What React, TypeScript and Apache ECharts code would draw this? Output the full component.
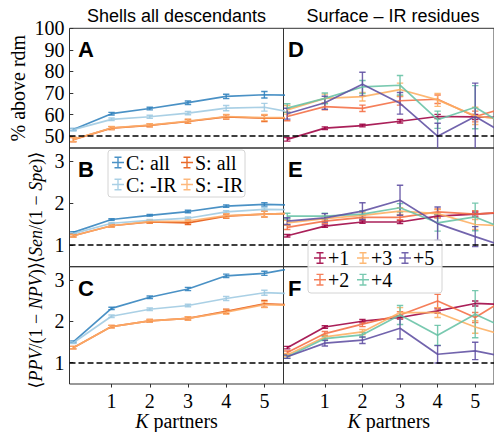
import React, { useEffect, useRef } from 'react';
import * as echarts from 'echarts';

// ---------- data ----------
const K = [0, 1, 2, 3, 4, 5, 6];
const xTicks = [1, 2, 3, 4, 5];
const pctTicks = [50, 60, 70, 80, 90, 100];
const ratioTicks = [1, 2, 3];

const leftNames = ['C: all', 'C: -IR', 'S: all', 'S: -IR'];
const rightNames = ['+1', '+2', '+3', '+4', '+5'];

// Panel A: % above random
const aCAll = [53.1, 60.4, 62.8, 65.5, 68.4, 69.2, 68.8];
const aCAllErr = [0.5, 0.6, 0.6, 0.8, 1.0, 1.5, 1.5];
const aCIR = [53.0, 57.8, 59.0, 60.7, 63.0, 63.4, 60.0];
const aCIRErr = [0.5, 0.6, 0.7, 0.8, 1.2, 1.8, 1.8];
const aSAll = [48.4, 53.7, 55.0, 56.8, 58.9, 58.3, 58.4];
const aSAllErr = [1.0, 0.7, 0.7, 0.9, 1.0, 1.5, 1.5];
const aSIR = [48.5, 53.8, 55.1, 57.0, 59.1, 58.6, 58.5];
const aSIRErr = [1.0, 0.7, 0.7, 0.9, 1.0, 1.4, 1.4];

// Panel B: <Sen/(1-Spe)>
const bCAll = [1.30, 1.61, 1.71, 1.80, 1.93, 1.97, 1.95];
const bCAllErr = [0.02, 0.02, 0.02, 0.03, 0.03, 0.04, 0.04];
const bCIR = [1.27, 1.52, 1.59, 1.64, 1.79, 1.85, 1.84];
const bCIRErr = [0.02, 0.02, 0.02, 0.03, 0.03, 0.04, 0.04];
const bSAll = [1.22, 1.46, 1.55, 1.53, 1.69, 1.74, 1.76];
const bSAllErr = [0.03, 0.03, 0.03, 0.04, 0.05, 0.07, 0.07];
const bSIR = [1.22, 1.46, 1.56, 1.57, 1.70, 1.74, 1.76];
const bSIRErr = [0.03, 0.03, 0.03, 0.04, 0.05, 0.07, 0.07];

// Panel C: <PPV/(1-NPV)>
const cCAll = [1.50, 2.31, 2.58, 2.78, 3.10, 3.16, 3.33];
const cCAllErr = [0.02, 0.03, 0.03, 0.04, 0.04, 0.05, 0.05];
const cCIR = [1.48, 2.12, 2.29, 2.38, 2.55, 2.69, 2.66];
const cCIRErr = [0.02, 0.03, 0.03, 0.03, 0.05, 0.06, 0.06];
const cSAll = [1.36, 1.87, 2.01, 2.07, 2.24, 2.42, 2.39];
const cSAllErr = [0.03, 0.03, 0.03, 0.04, 0.05, 0.08, 0.08];
const cSIR = [1.36, 1.87, 2.01, 2.07, 2.22, 2.40, 2.38];
const cSIRErr = [0.03, 0.03, 0.03, 0.04, 0.05, 0.07, 0.07];

// Panel D
const d1 = [48.5, 53.7, 54.9, 56.9, 59.1, 58.9, 58.5];
const d1Err = [0.8, 0.6, 0.6, 0.8, 1.0, 1.2, 1.2];
const d2 = [59.1, 63.7, 62.9, 66.4, 67.1, 59.1, 64.0];
const d2Err = [2.0, 1.5, 1.5, 2.0, 2.0, 2.5, 2.5];
const d3 = [62.2, 67.5, 68.3, 71.6, 66.8, 59.4, 57.0];
const d3Err = [2.0, 2.0, 2.0, 3.0, 3.0, 4.0, 4.0];
const d4 = [63.0, 67.5, 72.8, 73.6, 57.6, 63.4, 53.0];
const d4Err = [2.0, 2.5, 3.0, 4.5, 4.0, 10.0, 10.0];
const d5 = [60.4, 65.5, 74.1, 65.2, 50.0, 59.1, 49.0];
const d5Err = [2.5, 3.0, 5.5, 5.0, 6.0, 15.5, 15.0];

// Panel E
const e1 = [1.22, 1.45, 1.55, 1.55, 1.69, 1.74, 1.78];
const e1Err = [0.03, 0.03, 0.03, 0.04, 0.04, 0.05, 0.05];
const e2 = [1.42, 1.57, 1.66, 1.66, 1.79, 1.74, 1.80];
const e2Err = [0.05, 0.05, 0.05, 0.06, 0.07, 0.08, 0.08];
const e3 = [1.53, 1.63, 1.71, 1.81, 1.75, 1.49, 1.45];
const e3Err = [0.06, 0.06, 0.07, 0.08, 0.10, 0.12, 0.12];
const e4 = [1.69, 1.69, 1.74, 1.89, 1.53, 1.67, 1.30];
const e4Err = [0.07, 0.07, 0.08, 0.10, 0.20, 0.33, 0.33];
const e5 = [1.57, 1.65, 1.81, 2.07, 1.51, 1.20, 0.90];
const e5Err = [0.08, 0.10, 0.20, 0.36, 0.40, 0.24, 0.30];

// Panel F
const f1 = [1.36, 1.86, 2.00, 2.09, 2.25, 2.43, 2.40];
const f1Err = [0.03, 0.03, 0.04, 0.04, 0.05, 0.06, 0.06];
const f2 = [1.24, 1.70, 1.93, 2.15, 2.49, 2.09, 2.65];
const f2Err = [0.04, 0.05, 0.06, 0.08, 0.16, 0.12, 0.12];
const f3 = [1.18, 1.62, 1.74, 2.21, 2.21, 1.86, 1.60];
const f3Err = [0.04, 0.05, 0.06, 0.12, 0.12, 0.15, 0.15];
const f4 = [1.14, 1.58, 1.67, 2.15, 1.66, 2.17, 1.75];
const f4Err = [0.04, 0.05, 0.06, 0.23, 0.24, 0.57, 0.50];
const f5 = [1.14, 1.47, 1.54, 1.83, 1.20, 1.28, 1.10];
const f5Err = [0.04, 0.07, 0.08, 0.26, 0.21, 0.21, 0.20];

// ---------- styling ----------
const leftColors = ['#3182bd', '#9ecae1', '#e6550d', '#fdae6b'];
const rightColors = ['#9e0142', '#f46d43', '#fdae61', '#66c2a5', '#5e4fa2'];
const SERIF = "'Liberation Serif', 'Times New Roman', 'DejaVu Serif', serif";
const SANS = "'Liberation Sans', Arial, 'DejaVu Sans', sans-serif";
const ALPHA = 0.88;
const ERR_ICON = 'path://M2.5,0h7v1.4h-7z M5.3,0h1.4v12h-1.4z M2.5,10.6h7v1.4h-7z M0,5.3h12v1.4h-12z';

const LEFT_X = 69.5;
const RIGHT_X = 283.5;
const GRID_W = 214;
const ROWS = [
  { top: 28.3, height: 119.7 },
  { top: 148, height: 118.7 },
  { top: 266.7, height: 119.3 },
];

function App() {
  const ref = useRef<HTMLDivElement>(null);
  useEffect(() => {
    if (!ref.current) return;
    const chart = echarts.init(ref.current, null, { renderer: 'svg' });

    const panels = [
      { vals: [aCAll, aCIR, aSAll, aSIR], errs: [aCAllErr, aCIRErr, aSAllErr, aSIRErr], names: leftNames, colors: leftColors, row: 0, side: 0, ref: 50 },
      { vals: [bCAll, bCIR, bSAll, bSIR], errs: [bCAllErr, bCIRErr, bSAllErr, bSIRErr], names: leftNames, colors: leftColors, row: 1, side: 0, ref: 1 },
      { vals: [cCAll, cCIR, cSAll, cSIR], errs: [cCAllErr, cCIRErr, cSAllErr, cSIRErr], names: leftNames, colors: leftColors, row: 2, side: 0, ref: 1 },
      { vals: [d1, d2, d3, d4, d5], errs: [d1Err, d2Err, d3Err, d4Err, d5Err], names: rightNames, colors: rightColors, row: 0, side: 1, ref: 50 },
      { vals: [e1, e2, e3, e4, e5], errs: [e1Err, e2Err, e3Err, e4Err, e5Err], names: rightNames, colors: rightColors, row: 1, side: 1, ref: 1 },
      { vals: [f1, f2, f3, f4, f5], errs: [f1Err, f2Err, f3Err, f4Err, f5Err], names: rightNames, colors: rightColors, row: 2, side: 1, ref: 1 },
    ];

    const grids: any[] = [];
    const xAxes: any[] = [];
    const yAxes: any[] = [];
    const series: any[] = [];

    const yNames = [
      '% above rdm',
      '⟨{i|Sen}/(1 − {i|Spe})⟩',
      '⟨{i|PPV}/(1 − {i|NPV})⟩',
    ];
    const yGaps = [42, 25, 25];
    const ySizes = [20, 18, 18];

    panels.forEach((p, gi) => {
      const r = ROWS[p.row];
      grids.push({
        left: p.side === 0 ? LEFT_X : RIGHT_X,
        top: r.top,
        width: GRID_W,
        height: r.height,
        show: true,
        borderColor: '#333',
        borderWidth: 1,
        backgroundColor: 'transparent',
      });
      const bottomRow = p.row === 2;
      xAxes.push({
        type: 'value',
        gridIndex: gi,
        min: -0.1,
        max: 5.5,
        axisLine: { show: false },
        splitLine: { show: false },
        axisTick: bottomRow
          ? { show: true, customValues: xTicks, length: 3.5, inside: false, lineStyle: { color: '#333', width: 1 } }
          : { show: false },
        axisLabel: bottomRow
          ? { show: true, customValues: xTicks, fontFamily: SERIF, fontSize: 20, color: '#000', margin: 7 }
          : { show: false },
        name: bottomRow ? '{i|K} partners' : '',
        nameLocation: 'middle',
        nameGap: 27,
        nameMoveOverlap: false,
        nameTextStyle: {
          fontFamily: SERIF,
          fontSize: 20,
          color: '#000',
          rich: { i: { fontFamily: SERIF, fontSize: 20, fontStyle: 'italic', color: '#000' } },
        },
      });
      const isPct = p.row === 0;
      const yTicks = isPct ? pctTicks : ratioTicks;
      const left = p.side === 0;
      const fs = ySizes[p.row];
      yAxes.push({
        type: 'value',
        gridIndex: gi,
        min: isPct ? 44.5 : 0.48,
        max: isPct ? 100 : 3.32,
        axisLine: { show: false },
        splitLine: { show: false },
        axisTick: left
          ? { show: true, customValues: yTicks, length: 3.5, lineStyle: { color: '#333', width: 1 } }
          : { show: false },
        axisLabel: left
          ? { show: true, customValues: yTicks, fontFamily: SERIF, fontSize: 20, color: '#000', margin: 5 }
          : { show: false },
        name: left ? yNames[p.row] : '',
        nameLocation: 'middle',
        nameRotate: 90,
        nameGap: yGaps[p.row],
        nameMoveOverlap: false,
        nameTextStyle: {
          fontFamily: SERIF,
          fontSize: fs,
          lineHeight: fs,
          color: '#000',
          rich: { i: { fontFamily: SERIF, fontSize: fs, lineHeight: fs, fontStyle: 'italic', color: '#000' } },
        },
      });

      p.vals.forEach((vals, si) => {
        const color = p.colors[si];
        const name = p.names[si];
        const errs = p.errs[si];
        series.push({
          type: 'line',
          name,
          xAxisIndex: gi,
          yAxisIndex: gi,
          data: K.map((k, i) => [k, vals[i]]),
          showSymbol: false,
          symbol: 'none',
          clip: true,
          color,
          lineStyle: { color, width: 1.7, opacity: ALPHA },
          itemStyle: { color, opacity: ALPHA },
          z: 2,
          markLine: si === 0
            ? {
                silent: true,
                symbol: ['none', 'none'],
                label: { show: false },
                lineStyle: { color: '#000', type: [6, 3], width: 1.5, opacity: 1 },
                data: [{ yAxis: p.ref }],
              }
            : undefined,
        });
        series.push({
          type: 'custom',
          name,
          xAxisIndex: gi,
          yAxisIndex: gi,
          clip: true,
          z: 2,
          color,
          encode: { x: 0, y: [1, 2] },
          data: K.map((k, i) => [k, vals[i] - errs[i], vals[i] + errs[i]]),
          renderItem: (params: any, api: any) => {
            const x = api.value(0);
            const lo = api.coord([x, api.value(1)]);
            const hi = api.coord([x, api.value(2)]);
            const cap = 3.2;
            const st = { stroke: color, lineWidth: 1.4, opacity: ALPHA };
            return {
              type: 'group',
              children: [
                { type: 'line', shape: { x1: lo[0], y1: lo[1], x2: hi[0], y2: hi[1] }, style: st },
                { type: 'line', shape: { x1: lo[0] - cap, y1: lo[1], x2: lo[0] + cap, y2: lo[1] }, style: st },
                { type: 'line', shape: { x1: hi[0] - cap, y1: hi[1], x2: hi[0] + cap, y2: hi[1] }, style: st },
              ],
            };
          },
        });
      });
    });

    const legendItem = (name: string, left: number, top: number) => ({
      data: [name],
      left,
      top,
      padding: 0,
      itemWidth: 12,
      itemHeight: 12,
      icon: ERR_ICON,
      selectedMode: false,
      z: 6,
      itemStyle: { opacity: ALPHA },
      textStyle: { fontFamily: SERIF, fontSize: 20, color: '#000', padding: [0, 0, 0, -3] },
    });

    const legends = [
      legendItem(leftNames[0], 112, 152.5),
      legendItem(leftNames[2], 181, 152.5),
      legendItem(leftNames[1], 112, 174.5),
      legendItem(leftNames[3], 181, 174.5),
      legendItem(rightNames[0], 314, 248),
      legendItem(rightNames[2], 357, 248),
      legendItem(rightNames[4], 399, 248),
      legendItem(rightNames[1], 314, 269.7),
      legendItem(rightNames[3], 357, 269.7),
    ];

    const letters = ['A', 'B', 'C', 'D', 'E', 'F'];
    const graphic: any[] = [
      {
        type: 'text', x: 176.5, y: 15.5, z: 10,
        style: { text: 'Shells all descendants', font: `18px ${SANS}`, fill: '#000', align: 'center', verticalAlign: 'middle' },
      },
      {
        type: 'text', x: 393, y: 15.5, z: 10,
        style: { text: 'Surface – IR residues', font: `18px ${SANS}`, fill: '#000', align: 'center', verticalAlign: 'middle' },
      },
      {
        type: 'rect', z: 4,
        shape: { x: 108, y: 150, width: 137, height: 47, r: 3 },
        style: { fill: 'rgba(255,255,255,0.8)', stroke: '#d4d4d4', lineWidth: 1 },
      },
      {
        type: 'rect', z: 4,
        shape: { x: 308, y: 240, width: 134, height: 53, r: 3 },
        style: { fill: 'rgba(255,255,255,0.8)', stroke: '#d4d4d4', lineWidth: 1 },
      },
    ];
    panels.forEach((p, gi) => {
      const r = ROWS[p.row];
      graphic.push({
        type: 'text',
        x: p.side === 0 ? 78 : 288,
        y: r.top + 21.5,
        z: 10,
        style: { text: letters[gi], font: `bold 22px ${SANS}`, fill: '#000', align: 'left', verticalAlign: 'middle' },
      });
    });

    chart.setOption({
      animation: false,
      backgroundColor: '#fff',
      grid: grids,
      xAxis: xAxes,
      yAxis: yAxes,
      legend: legends,
      graphic,
      series,
    });
    return () => chart.dispose();
  }, []);
  return <div ref={ref} style={{ position: 'absolute', left: 0, top: 0, width: 494, height: 432 }} />;
}

export default App;
